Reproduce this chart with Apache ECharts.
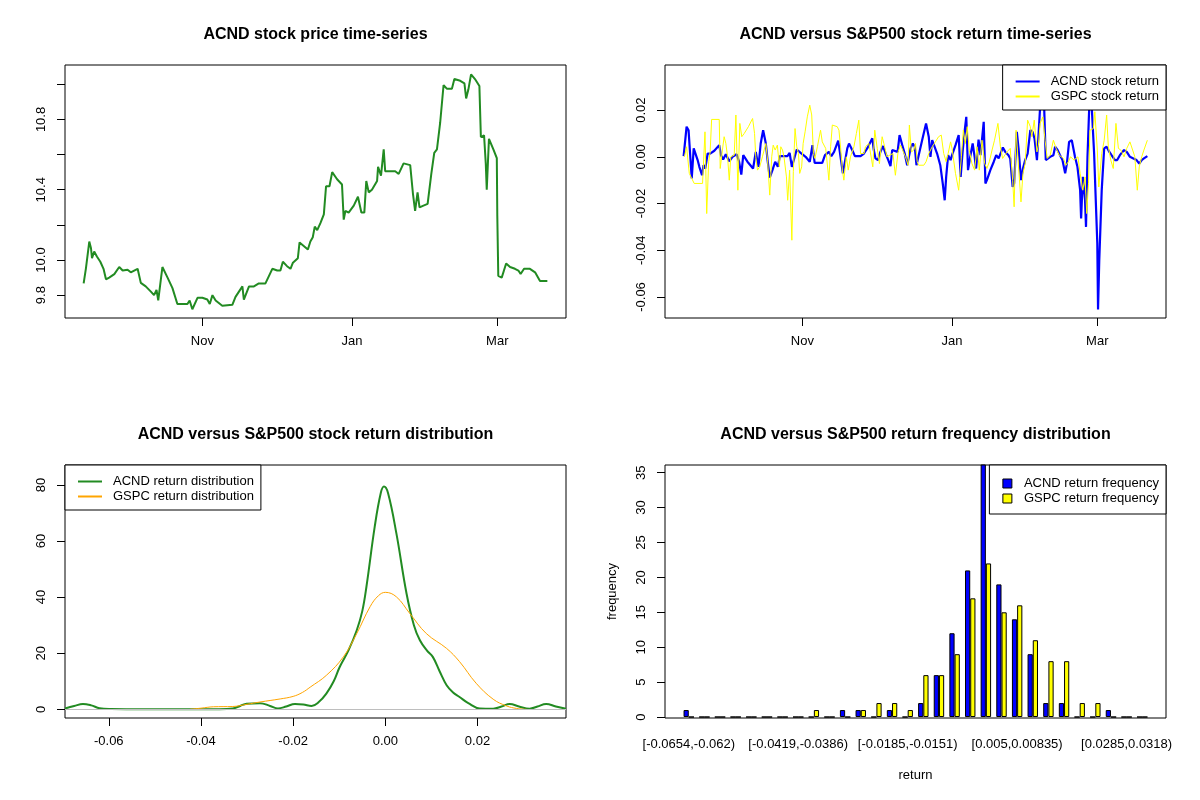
<!DOCTYPE html>
<html>
<head>
<meta charset="utf-8">
<title>ACND versus S&amp;P500</title>
<script src="https://cdn.jsdelivr.net/npm/echarts@6.0.0/dist/echarts.min.js"></script>
<style>
    html, body { margin: 0; padding: 0; background: #fff; }
    #main { width: 1200px; height: 800px; }
</style>
</head>
<body>
<div id="main"></div>
<script>
// x of the time-series panels = calendar days after the first observation (mid Sept)
var monthTickDays = [48.4, 109.4, 168.6];
var monthLabels = ['Nov', 'Jan', 'Mar'];

// ACND closing price [day, price]
var acndPrice = [[0,9.867],[0.9,9.95],[2.3,10.105],[3.0,10.067],[3.4,10.01],[4.3,10.048],[5.4,10.02],[6.8,9.99],[8.1,9.95],[9.1,9.89],[10.4,9.90],[12.5,9.92],[14.5,9.96],[15.9,9.94],[17.9,9.945],[19.2,9.93],[22.0,9.95],[23.3,9.87],[25.3,9.85],[27.4,9.82],[28.7,9.80],[29.7,9.83],[30.4,9.77],[32.1,9.96],[34.2,9.90],[36.2,9.84],[38.2,9.75],[42.3,9.75],[43.2,9.77],[44.3,9.72],[46.4,9.785],[48.4,9.785],[50.4,9.775],[51.4,9.75],[52.5,9.80],[53.8,9.77],[56.5,9.74],[60.6,9.745],[61.9,9.79],[64.7,9.85],[65.3,9.775],[67.4,9.85],[69.4,9.85],[71.4,9.867],[74.1,9.867],[76.9,9.95],[78.9,9.94],[80.2,9.94],[81.2,9.99],[82.9,9.965],[84.3,9.95],[85.3,9.985],[87.3,10.01],[88.0,10.10],[89.7,10.08],[91.4,10.06],[92.4,10.105],[93.4,10.13],[94.2,10.19],[95.2,10.17],[96.5,10.21],[97.9,10.26],[98.8,10.42],[100.2,10.42],[101.3,10.50],[103.3,10.46],[105.3,10.43],[106.0,10.23],[106.7,10.28],[108.0,10.27],[110.1,10.31],[111.8,10.36],[113.2,10.27],[114.4,10.27],[115.2,10.45],[116.2,10.385],[117.5,10.40],[119.6,10.45],[120.0,10.53],[121.2,10.48],[122.3,10.63],[122.9,10.505],[127.0,10.505],[128.4,10.49],[130.4,10.55],[133.1,10.54],[134.2,10.38],[135.1,10.28],[136.1,10.385],[136.9,10.30],[138.5,10.31],[140.2,10.32],[141.7,10.49],[142.9,10.61],[144.0,10.63],[145.3,10.78],[146.7,10.996],[148.0,10.975],[150.1,10.975],[151.1,11.03],[153.5,11.02],[155.2,11.005],[155.9,10.92],[156.8,10.97],[157.9,11.057],[159.5,11.03],[161.3,10.99],[161.9,10.70],[163.2,10.71],[163.9,10.55],[164.3,10.40],[165.2,10.69],[167.0,10.63],[168.4,10.58],[168.6,10.25],[169.0,9.91],[170.4,9.90],[172.2,9.98],[173.8,9.96],[175.8,9.95],[177.2,9.94],[178.1,9.92],[179.5,9.95],[181.9,9.95],[184.0,9.93],[186.0,9.88],[189.0,9.88]];

// daily returns [day, return]
var acndReturn = [[0,0.0003],[1.2,0.0129],[2.0,0.0114],[3.3,-0.0093],[4.1,0.0036],[4.7,0.0029],[5.7,-0.0014],[6.4,-0.0043],[7.5,-0.0079],[8.1,-0.0036],[8.8,-0.005],[9.8,0.0014],[10.8,0.0014],[12.5,0.0026],[14.5,0.005],[15.2,0.0007],[16.1,-0.0011],[17.2,0.0011],[18.6,-0.0019],[19.9,0],[21.6,0.0011],[22.6,-0.0021],[23.5,-0.0076],[24.3,0.0007],[26.0,-0.0021],[28.3,-0.005],[29.4,0.0021],[30.5,-0.0043],[31.4,0.0057],[32.4,0.0114],[33.5,0.0057],[34.2,-0.0014],[35.1,-0.0089],[36.2,-0.0057],[37.3,-0.0021],[38.4,-0.0043],[39.2,0.0003],[42.3,0.0003],[43.2,0.0017],[44.1,-0.0043],[44.7,-0.0021],[46.1,0.0031],[47.7,0.0017],[49.7,0],[51.4,-0.0021],[52.5,0.005],[53.4,-0.0026],[56.5,-0.0026],[57.6,0.0007],[59.2,0.0021],[60.2,0.0003],[61.3,0.0021],[63.0,0.0069],[64.9,-0.0071],[66.7,0.0036],[67.4,0.0057],[68.7,0.0029],[69.8,0.0003],[72.1,0.0003],[73.5,0.0014],[74.8,0.0036],[76.9,0.0079],[77.5,0.0029],[78.2,-0.0007],[79.2,-0.0014],[80.2,0.0021],[81.3,0.0046],[82.3,0.0014],[83.4,-0.0014],[84.3,-0.004],[85.0,0.0029],[87.2,0.0021],[88.0,0.0093],[89.1,0.005],[90.1,0.0014],[91.1,-0.0036],[92.5,0.0036],[93.4,0.0057],[94.2,0.0043],[94.9,-0.0036],[95.8,0.0007],[97.2,0.0071],[98.8,0.0143],[99.9,0.0086],[100.6,0],[101.3,0.0071],[102.3,0.0043],[103.3,0.0014],[104.6,-0.0036],[105.6,-0.0114],[106.4,-0.0186],[107.0,-0.0086],[107.8,0.0007],[108.8,-0.0014],[109.4,0.0007],[110.8,0.005],[112.1,0.0093],[112.9,-0.0086],[113.7,0.0021],[114.5,0.0107],[115.2,0.0171],[115.9,-0.0057],[116.8,0],[117.8,0.0057],[118.6,0],[119.2,-0.005],[120.2,0.0074],[121.0,0.0007],[122.3,0.015],[123.0,-0.0114],[123.6,-0.01],[125.0,-0.0057],[126.4,-0.0021],[127.4,0.0007],[128.4,-0.0007],[129.7,0.0029],[130.1,0.004],[131.1,0.0021],[132.4,0.0007],[133.1,-0.0007],[134.1,-0.0129],[134.7,-0.0114],[135.8,0.0107],[136.5,0.0036],[137.5,-0.01],[138.3,-0.005],[139.2,-0.0014],[140.2,0.0014],[141.3,0.0114],[142.2,0.0107],[143.0,0.0079],[144.0,-0.0014],[144.6,0.0086],[145.6,0.027],[146.8,0.026],[147.6,-0.0014],[149.4,0],[150.7,0.0007],[151.4,0.0043],[152.4,0.0029],[153.4,0.0007],[154.4,-0.0014],[155.5,-0.0071],[156.2,-0.0029],[157.1,0.0064],[158.2,0.0071],[159.5,0],[160.5,-0.0043],[161.6,-0.0143],[162.0,-0.0264],[162.7,-0.0086],[163.6,-0.0186],[164.0,-0.03],[164.6,0],[165.4,0.024],[166.3,0.022],[167.3,0.0014],[168.6,-0.0371],[168.9,-0.0654],[169.4,-0.0443],[170.4,-0.0143],[171.4,0.0036],[172.4,0.0043],[173.5,0.0021],[174.4,0.0007],[175.8,-0.0014],[176.7,-0.0014],[177.8,0.0007],[179.5,0.0029],[180.6,0.0021],[181.9,0],[183.3,-0.0007],[184.6,-0.0014],[185.7,-0.0029],[186.7,-0.0014],[187.6,-0.0007],[189.0,0.0003]];
var gspcReturn = [[0.3,0],[1.2,0.0043],[2.3,-0.0071],[4.3,-0.0114],[7.7,-0.0114],[8.7,0.0107],[9.4,-0.0243],[10.2,-0.0021],[10.8,0.0021],[11.4,0.016],[14.5,0.016],[14.9,-0.005],[15.8,0.0029],[16.5,0.0086],[17.2,0.0057],[17.9,0],[18.6,-0.01],[19.2,0],[20.6,0.0007],[21.3,0.0179],[22.1,-0.0143],[22.9,0.0143],[23.7,0.0086],[24.7,0.01],[26.4,0.0129],[28.1,0.0164],[28.9,0.01],[29.4,0],[30.1,-0.0057],[31.0,-0.0043],[32.1,0],[32.8,0.0029],[33.5,0.0057],[34.2,-0.0014],[35.1,-0.0164],[35.9,0],[36.5,0.005],[37.3,0.0029],[38.2,0.005],[39.0,-0.0043],[39.6,0.0043],[40.3,0.0029],[40.9,0],[41.9,-0.0086],[42.4,-0.0186],[43.2,-0.0057],[44.1,-0.0357],[44.7,-0.0064],[45.4,0.0121],[46.1,0.0043],[46.8,0.0014],[47.3,-0.0071],[48.1,-0.0043],[48.7,0.0057],[49.5,0.0107],[50.4,0.0171],[51.4,0.0221],[52.2,0.0179],[52.9,0.0014],[53.5,-0.0007],[54.5,0.0043],[55.8,0.0114],[56.5,0.0064],[57.9,0.0036],[58.8,-0.0057],[59.2,-0.01],[59.9,0.0043],[60.6,0.0136],[62.6,0.0129],[63.3,0.0114],[64.0,0.0036],[64.7,-0.0057],[65.3,-0.01],[66.3,0],[67.1,-0.0057],[68.0,0],[69.4,0.0043],[70.4,0.01],[71.4,0.0157],[72.1,0.0014],[73.5,0.0014],[74.1,0.0043],[75.5,0.0057],[77.1,-0.0043],[77.9,0.0114],[78.9,0.0036],[79.8,-0.0029],[80.9,0.0086],[81.6,0.0057],[82.9,0],[84.0,0.0007],[85.3,0.0014],[86.3,-0.0079],[87.4,0.0021],[88.4,0.005],[89.1,0.005],[90.4,0],[91.5,-0.0036],[92.0,0.0136],[92.8,0.0021],[93.8,0.0029],[94.5,0.0057],[95.2,-0.0021],[95.8,-0.0036],[97.9,-0.0036],[98.8,-0.0021],[99.9,0.0014],[101.3,0.0043],[102.6,0.0064],[103.9,0.0086],[105.0,0.0093],[106.0,0.0014],[107.0,-0.0021],[107.8,0.0014],[108.8,0.0064],[109.4,0.0036],[110.8,-0.0071],[112.1,-0.0143],[113.2,0],[114.0,0.0114],[114.8,0.0057],[115.6,0.0129],[116.4,0.0029],[117.5,-0.0029],[118.6,-0.0057],[119.6,0.0043],[120.5,-0.0057],[121.6,0.0071],[122.7,-0.0029],[123.6,-0.005],[124.6,-0.0021],[125.7,0.0029],[126.7,0.0071],[128.1,0.0143],[129.1,0.0043],[130.0,-0.0007],[131.8,0.0021],[133.1,0.0036],[134.1,-0.01],[134.7,-0.0214],[135.5,0.0114],[136.5,-0.0043],[137.5,-0.0193],[138.3,-0.0071],[139.2,-0.0029],[140.2,0.0157],[141.3,0.0129],[141.9,0.0086],[142.9,0.0157],[144.0,0.0021],[144.6,0.005],[145.3,0.0143],[146.4,0.0171],[147.3,0.0071],[148.2,-0.0007],[149.4,0.0007],[150.7,0.0071],[151.8,0.0036],[153.1,0.0007],[154.8,-0.0007],[155.8,-0.0036],[156.8,-0.0021],[157.7,0],[159.1,-0.0014],[160.7,0],[161.6,-0.0071],[162.7,-0.0143],[163.6,-0.0086],[164.3,-0.0243],[165.0,-0.0114],[165.6,0.0114],[167.0,0.0121],[167.6,0.0193],[168.6,0.0029],[169.2,-0.0129],[170.4,0.0014],[171.4,0.0071],[172.4,0.0179],[173.1,0.0043],[174.1,-0.0014],[175.1,-0.005],[176.2,0.0143],[177.2,0.0036],[178.2,0.0029],[179.5,0],[180.6,0.0036],[181.9,0.0064],[183.0,0.0029],[183.9,0],[184.9,-0.0143],[185.7,-0.0043],[186.7,0],[187.6,0.0029],[189.0,0.0071]];

// kernel density of the returns [return, density]
var acndDensity = [[-0.0695,0.3],[-0.0675,1.2],[-0.0656,1.9],[-0.0638,1.4],[-0.062,0.4],[-0.0595,0.1],[-0.0562,0.05],[-0.045,0.05],[-0.036,0.05],[-0.0331,0.3],[-0.0315,1.2],[-0.0301,2.0],[-0.0272,2.2],[-0.025,1.2],[-0.0233,0.3],[-0.0215,1.0],[-0.0196,1.9],[-0.0178,1.7],[-0.016,1.2],[-0.0145,2.5],[-0.0128,5.6],[-0.0112,10],[-0.0099,15.1],[-0.008,21],[-0.0062,28.2],[-0.005,35],[-0.0041,43.7],[-0.0023,65.1],[-0.001,77],[-0.0003,79.4],[0.0006,77],[0.0024,62.7],[0.0046,41.3],[0.0062,30],[0.0075,24.6],[0.009,21],[0.0103,18.7],[0.0118,13.5],[0.0133,8.6],[0.0147,6],[0.0161,4.4],[0.018,2.2],[0.0205,0.3],[0.0234,0.2],[0.0252,1.0],[0.027,1.9],[0.029,1.0],[0.0313,0.2],[0.033,1.0],[0.0349,1.9],[0.037,1.0],[0.0392,0.2]];
var gspcDensity = [[-0.0424,0],[-0.04,0.4],[-0.0373,0.9],[-0.0331,1.0],[-0.03,1.8],[-0.0272,2.6],[-0.0228,3.7],[-0.02,4.6],[-0.018,6.0],[-0.0163,7.9],[-0.0128,12.1],[-0.0091,18.7],[-0.0062,27],[-0.0033,36.6],[-0.0015,40.5],[0,41.7],[0.0024,40.1],[0.0053,34.2],[0.0089,27],[0.0133,21.7],[0.0161,17],[0.0197,9.3],[0.0234,3.6],[0.0263,1.2],[0.0285,0.3],[0.0306,0]];

// histogram of the returns
var binLabels = ['[-0.0654,-0.062)','[-0.062,-0.0587)','[-0.0587,-0.0553)','[-0.0553,-0.052)','[-0.052,-0.0486)','[-0.0486,-0.0453)','[-0.0453,-0.0419)','[-0.0419,-0.0386)','[-0.0386,-0.0352)','[-0.0352,-0.0319)','[-0.0319,-0.0285)','[-0.0285,-0.0252)','[-0.0252,-0.0218)','[-0.0218,-0.0185)','[-0.0185,-0.0151)','[-0.0151,-0.0117)','[-0.0117,-0.0084)','[-0.0084,-0.005)','[-0.005,-0.00165)','[-0.00165,0.0017)','[0.0017,0.005)','[0.005,0.00835)','[0.00835,0.0117)','[0.0117,0.0151)','[0.0151,0.0184)','[0.0184,0.0218)','[0.0218,0.0251)','[0.0251,0.0285)','[0.0285,0.0318)','[0.0318,0.0352)'];
var acndFreq = [1,0,0,0,0,0,0,0,0,0,1,1,0,1,0,2,6,12,21,37,19,14,9,2,2,0,0,1,0,0];
var gspcFreq = [0,0,0,0,0,0,0,0,1,0,0,1,2,2,1,6,6,9,17,22,15,16,11,8,8,2,2,0,0,0];
var shownBins = [1, 8, 15, 22, 29];

// axis ticks
var priceTicks = [9.8, 10.0, 10.2, 10.4, 10.6, 10.8, 11.0];
var priceLabels = [9.8, 10.0, 10.4, 10.8];
var returnTicks = [-0.06, -0.04, -0.02, 0.00, 0.02];
var densityXTicks = [-0.06, -0.04, -0.02, 0.00, 0.02];
var densityYTicks = [0, 20, 40, 60, 80];
var freqTicks = [0, 5, 10, 15, 20, 25, 30, 35];

var FONT = 'Liberation Sans, Arial, sans-serif';
var FS = 13;

function boxAxis(gridIndex, min, max, ticks, labels, formatter, rotate) {
    return {
        type: 'value',
        gridIndex: gridIndex,
        min: min,
        max: max,
        axisLine: {show: false, onZero: false},
        splitLine: {show: false},
        axisTick: {show: true, inside: false, length: 8, customValues: ticks, lineStyle: {color: '#000', width: 1}},
        axisLabel: {
            customValues: labels || ticks,
            formatter: formatter,
            rotate: rotate || 0,
            margin: 17,
            color: '#000',
            fontSize: FS,
            fontFamily: FONT
        }
    };
}

function monthName(v) {
    for (var i = 0; i < monthTickDays.length; i++) {
        if (Math.abs(monthTickDays[i] - v) < 0.01) return monthLabels[i];
    }
    return '';
}

function legendBox(names, pos, extra) {
    var lg = {
        data: names,
        orient: 'vertical',
        top: pos.top,
        backgroundColor: '#fff',
        borderColor: '#000',
        borderWidth: 1,
        borderRadius: 0,
        padding: [10, 7, 7, 12],
        itemGap: 2,
        itemWidth: 24,
        itemHeight: 14,
        selectedMode: false,
        itemStyle: {opacity: 0},
        textStyle: {color: '#000', fontSize: FS, fontFamily: FONT, padding: [0, 0, 0, 6]}
    };
    if (pos.left != null) lg.left = pos.left;
    if (pos.right != null) lg.right = pos.right;
    for (var k in extra) lg[k] = extra[k];
    return lg;
}

var chart = echarts.init(document.getElementById('main'), null, {renderer: 'canvas'});

var titles = [
    ['ACND stock price time-series', 315.5, 35],
    ['ACND versus S&P500 stock return time-series', 915.5, 35],
    ['ACND versus S&P500 stock return distribution', 315.5, 435],
    ['ACND versus S&P500 return frequency distribution', 915.5, 435]
];

var option = {
    animation: false,
    backgroundColor: '#fff',
    graphic: titles.map(function (t) {
        return {
            type: 'text', x: t[1], y: t[2],
            style: {text: t[0], textAlign: 'center', textVerticalAlign: 'middle', fill: '#000', font: 'bold 16px ' + FONT}
        };
    }),
    grid: [
        {left: 65, top: 65, width: 501, height: 253, show: true, borderColor: '#000', borderWidth: 1, backgroundColor: 'transparent', containLabel: false, outerBoundsMode: 'none'},
        {left: 665, top: 65, width: 501, height: 253, show: true, borderColor: '#000', borderWidth: 1, backgroundColor: 'transparent', containLabel: false, outerBoundsMode: 'none'},
        {left: 65, top: 465, width: 501, height: 253, show: true, borderColor: '#000', borderWidth: 1, backgroundColor: 'transparent', containLabel: false, outerBoundsMode: 'none'},
        {left: 665, top: 465, width: 501, height: 253, show: true, borderColor: '#000', borderWidth: 1, backgroundColor: 'transparent', containLabel: false, outerBoundsMode: 'none'}
    ],
    xAxis: [
        boxAxis(0, -7.6, 196.6, monthTickDays, null, monthName),
        boxAxis(1, -7.6, 196.6, monthTickDays, null, monthName),
        boxAxis(2, -0.0695, 0.0392, densityXTicks, null, function (v) { return v.toFixed(2); }),
        (function () {
            var ax = boxAxis(3, -0.52, 31.52, shownBins, null, function (v) { return binLabels[Math.round(v) - 1]; });
            ax.axisTick.show = false;
            ax.axisLabel.margin = 20;
            ax.name = 'return';
            ax.nameLocation = 'middle';
            ax.nameGap = 51;
            ax.nameTextStyle = {color: '#000', fontSize: FS, fontFamily: FONT};
            return ax;
        })()
    ],
    yAxis: [
        boxAxis(0, 9.67, 11.11, priceTicks, priceLabels, function (v) { return v.toFixed(1); }, 90),
        boxAxis(1, -0.069, 0.0393, returnTicks, null, function (v) { return v.toFixed(2); }, 90),
        boxAxis(2, -3.1, 87.1, densityYTicks, null, function (v) { return String(v); }, 90),
        (function () {
            var ax = boxAxis(3, -0.14, 36.1, freqTicks, null, function (v) { return String(v); }, 90);
            ax.name = 'frequency';
            ax.nameLocation = 'middle';
            ax.nameGap = 46;
            ax.nameRotate = 90;
            ax.nameTextStyle = {color: '#000', fontSize: FS, fontFamily: FONT};
            return ax;
        })()
    ],
    legend: [
        legendBox(['ACND stock return', 'GSPC stock return'], {right: 34, top: 65}),
        legendBox(['ACND return distribution', 'GSPC return distribution'], {left: 65, top: 465}),
        legendBox(['ACND return frequency', 'GSPC return frequency'], {right: 34, top: 465},
            {icon: 'rect', itemWidth: 9, itemHeight: 9, padding: [12, 7, 9, 13],
             itemStyle: {borderColor: '#000', borderWidth: 1},
             textStyle: {color: '#000', fontSize: FS, fontFamily: FONT, padding: [0, 0, 0, 7]}})
    ],
    series: [
        {
            name: 'ACND stock price', type: 'line', xAxisIndex: 0, yAxisIndex: 0,
            data: acndPrice, symbol: 'none', lineStyle: {color: '#228B22', width: 2}
        },
        {
            name: 'ACND stock return', type: 'line', xAxisIndex: 1, yAxisIndex: 1,
            data: acndReturn, symbol: 'none', color: '#0000FF', lineStyle: {color: '#0000FF', width: 2.2}
        },
        {
            name: 'GSPC stock return', type: 'line', xAxisIndex: 1, yAxisIndex: 1,
            data: gspcReturn, symbol: 'none', color: '#FFFF00', lineStyle: {color: '#FFFF00', width: 1}
        },
        {
            name: 'ACND return distribution', type: 'line', xAxisIndex: 2, yAxisIndex: 2,
            data: acndDensity, symbol: 'none', smooth: 0.4, color: '#228B22', lineStyle: {color: '#228B22', width: 2},
            markLine: {
                silent: true, symbol: 'none', label: {show: false}, animation: false,
                lineStyle: {color: '#BEBEBE', type: 'solid', width: 1},
                data: [{yAxis: 0}]
            }
        },
        {
            name: 'GSPC return distribution', type: 'line', xAxisIndex: 2, yAxisIndex: 2,
            data: gspcDensity, symbol: 'none', smooth: 0.4, color: '#FFA500', lineStyle: {color: '#FFA500', width: 1}
        },
        {
            name: 'ACND return frequency', type: 'bar', xAxisIndex: 3, yAxisIndex: 3,
            data: acndFreq.map(function (v, i) { return [i + 1, v]; }),
            barGap: '0%', barCategoryGap: '33.3%',
            itemStyle: {color: '#0000FF', borderColor: '#000', borderWidth: 1}
        },
        {
            name: 'GSPC return frequency', type: 'bar', xAxisIndex: 3, yAxisIndex: 3,
            data: gspcFreq.map(function (v, i) { return [i + 1, v]; }),
            barGap: '0%', barCategoryGap: '33.3%',
            itemStyle: {color: '#FFFF00', borderColor: '#000', borderWidth: 1}
        }
    ]
};

chart.setOption(option);
</script>
</body>
</html>
